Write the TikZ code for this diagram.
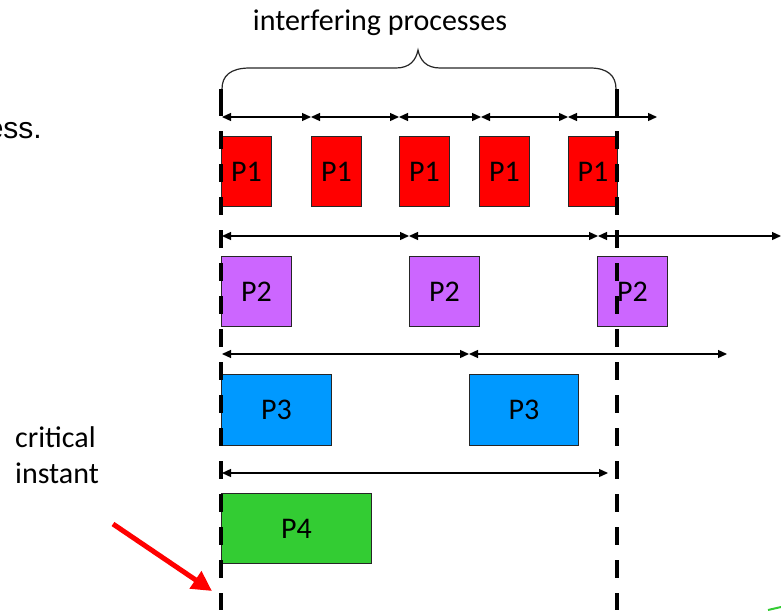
\documentclass[tikz,border=0pt]{standalone}
\usepackage{fontspec}
\setmainfont{Carlito}
\newfontfamily\arialfont{Liberation Sans}
\usetikzlibrary{arrows.meta}
\definecolor{pone}{HTML}{FF0000}
\definecolor{ptwo}{HTML}{CC66FF}
\definecolor{pthree}{HTML}{0099FF}
\definecolor{pfour}{HTML}{33CC33}
\definecolor{ptrred}{HTML}{FF0000}
\tikzset{
  procbox/.style={draw=black!85, line width=0.9pt, inner sep=0pt, anchor=north west,
    font=\fontsize{30}{32}\selectfont},
  dimarrow/.style={line width=1.3pt, {Triangle[length=9pt,width=8pt]}-{Triangle[length=9pt,width=8pt]}},
  deadline/.style={line width=4pt, dash pattern=on 18pt off 15pt},
  lbl/.style={font=\fontsize{30}{32}\selectfont, inner sep=0pt},
}
\begin{document}
\begin{tikzpicture}[x=1pt,y=-1pt]
\useasboundingbox (0,0) rectangle (781,610);
% texts
\node[lbl, anchor=base] (title) at (380,31) {interfering processes};
\node[anchor=base east, inner sep=0pt, font=\arialfont\fontsize{30}{32}\selectfont] (ess) at (42,138) {ess.};
\node[lbl, anchor=base west] (crit) at (15,447) {critical};
\node[lbl, anchor=base west] (inst) at (15,483) {instant};
% brace
\draw[line width=1.2pt, black!85] (222,89) .. controls (222,76) and (230,68) .. (250,68)
  -- (396,68) .. controls (410,68) and (416,60) .. (418,50)
  .. controls (420,60) and (426,68) .. (440,68)
  -- (590,68) .. controls (608,68) and (616,76) .. (616,89);
% P1 row
\node[procbox, fill=pone, minimum width=50, minimum height=70] (a1) at (221,136) {P1};
\node[procbox, fill=pone, minimum width=50, minimum height=70] (a2) at (311,136) {P1};
\node[procbox, fill=pone, minimum width=50, minimum height=70] (a3) at (399,136) {P1};
\node[procbox, fill=pone, minimum width=50, minimum height=70] (a4) at (479,136) {P1};
\node[procbox, fill=pone, minimum width=49, minimum height=70] (a5) at (568,136) {P1};
\coordinate (t10) at (222,117);
\coordinate (t11) at (311,117);
\coordinate (t12) at (399,117);
\coordinate (t13) at (481,117);
\coordinate (t14) at (568,117);
\coordinate (t15) at (657,117);
\draw[dimarrow] (t10) -- (t11);
\draw[dimarrow] (t11) -- (t12);
\draw[dimarrow] (t12) -- (t13);
\draw[dimarrow] (t13) -- (t14);
\draw[dimarrow] (t14) -- (t15);
% P2 row
\node[procbox, fill=ptwo, minimum width=70, minimum height=70] (b1) at (221,256) {P2};
\node[procbox, fill=ptwo, minimum width=70, minimum height=70] (b2) at (409,256) {P2};
\node[procbox, fill=ptwo, minimum width=70, minimum height=70] (b3) at (597,256) {P2};
\coordinate (t20) at (222,236);
\coordinate (t21) at (409,236);
\coordinate (t22) at (598,236);
\coordinate (t23) at (781,236);
\draw[dimarrow] (t20) -- (t21);
\draw[dimarrow] (t21) -- (t22);
\draw[dimarrow] (t22) -- (t23);
% P3 row
\node[procbox, fill=pthree, minimum width=110, minimum height=71] (c1) at (221,374) {P3};
\node[procbox, fill=pthree, minimum width=109, minimum height=71] (c2) at (469,374) {P3};
\coordinate (t30) at (222,354);
\coordinate (t31) at (469,354);
\coordinate (t32) at (727,354);
\draw[dimarrow] (t30) -- (t31);
\draw[dimarrow] (t31) -- (t32);
% P4 row
\node[procbox, fill=pfour, minimum width=150, minimum height=70] (d1) at (221,493) {P4};
\coordinate (t40) at (222,473);
\coordinate (t41) at (608,473);
\draw[dimarrow] (t40) -- (t41);
% deadline lines
\coordinate (L0) at (221,89);
\coordinate (L1) at (221,116);
\coordinate (L2) at (221,131);
\coordinate (L3) at (221,610);
\coordinate (R0) at (617,89);
\coordinate (R1) at (617,116);
\coordinate (R2) at (617,131);
\coordinate (R3) at (617,610);
\draw[line width=4pt] (L0) -- (L1);
\draw[deadline] (L2) -- (L3);
\draw[line width=4pt] (R0) -- (R1);
\draw[deadline] (R2) -- (R3);
% red pointer
\coordinate (rp0) at (113,524);
\coordinate (rp1) at (212,591);
\draw[ptrred, line width=5pt, -{Triangle[length=20pt,width=20pt]}] (rp0) -- (rp1);
% green fragment
\coordinate (g0) at (768,610);
\coordinate (g1) at (781,607);
\draw[pfour, line width=2pt] (g0) -- (g1);
\end{tikzpicture}
\end{document}
